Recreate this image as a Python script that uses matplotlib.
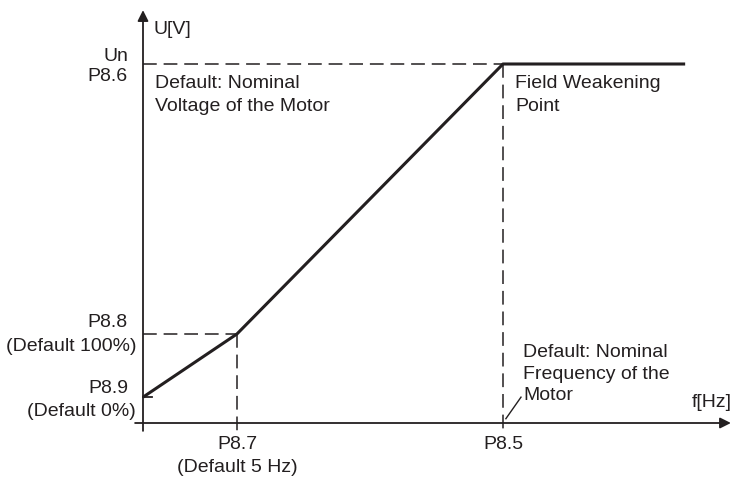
import matplotlib.pyplot as plt

# V/f curve, relative units (P8.5 frequency = 1, nominal voltage Un = 1)
f_pts = [0.0, 0.261, 1.0, 1.506]
u_pts = [0.072, 0.248, 1.0, 1.0]
f_p87 = f_pts[1]
f_p85 = f_pts[2]
u_p89 = u_pts[0]
u_p88 = u_pts[1]
u_n = u_pts[2]

ink = '#231f20'
plt.rcParams['font.family'] = ['Liberation Sans', 'DejaVu Sans']
fs = 14
ls = 1.4

fig = plt.figure(figsize=(7.34, 4.79), dpi=100)
ax = fig.add_axes([0, 0, 1, 1])
ax.set_xlim(-143/360, 591/360)
ax.set_ylim(-56/359, 423/359)
ax.axis('off')

# axes with arrows
ax.annotate('', xy=(1.633, 0), xytext=(-0.022, 0),
            arrowprops=dict(arrowstyle='-|>', color=ink, lw=1.3, mutation_scale=16, shrinkA=0, shrinkB=0))
ax.annotate('', xy=(0, 1.15), xytext=(0, -0.022),
            arrowprops=dict(arrowstyle='-|>', color=ink, lw=1.3, mutation_scale=16, shrinkA=0, shrinkB=0))

# dashed guides
dash = (0, (9, 4.5))
ax.plot([0, f_p85], [u_n, u_n], color=ink, lw=1.1, linestyle=dash)
ax.plot([f_p85, f_p85], [u_n, -0.02], color=ink, lw=1.1, linestyle=dash)
ax.plot([0, f_p87], [u_p88, u_p88], color=ink, lw=1.1, linestyle=dash)
ax.plot([f_p87, f_p87], [u_p88, -0.025], color=ink, lw=1.1, linestyle=dash)

# curve
ax.plot(f_pts, u_pts, color=ink, lw=2.2, solid_capstyle='butt')
ax.plot([0, 0.025], [u_p89, u_p89], color=ink, lw=1.3)

# leader line
ax.plot([1.008, 1.05], [0.012, 0.072], color=ink, lw=1.0)

# labels
ax.text(0.028, 1.095, 'U[V]', fontsize=fs, color=ink, va='center')
ax.text(1.636, 0.056, 'f[Hz]', fontsize=fs, color=ink, ha='right', va='center')
ax.text(-0.042, 1.022, 'Un', fontsize=fs, color=ink, ha='right', va='center')
ax.text(-0.042, 0.964, 'P8.6', fontsize=fs, color=ink, ha='right', va='center')
ax.text(0.033, 0.968, 'Default: Nominal\nVoltage of the Motor', fontsize=fs, color=ink,
        va='top', linespacing=ls)
ax.text(1.033, 0.968, 'Field Weakening\nPoint', fontsize=fs, color=ink, va='top', linespacing=ls)
ax.text(-0.042, 0.279, 'P8.8', fontsize=fs, color=ink, ha='right', va='center')
ax.text(-0.019, 0.212, '(Default 100%)', fontsize=fs, color=ink, ha='right', va='center')
ax.text(-0.042, 0.097, 'P8.9', fontsize=fs, color=ink, ha='right', va='center')
ax.text(-0.021, 0.031, '(Default 0%)', fontsize=fs, color=ink, ha='right', va='center')
ax.text(f_p87, -0.061, 'P8.7', fontsize=fs, color=ink, ha='center', va='center')
ax.text(f_p87, -0.125, '(Default 5 Hz)', fontsize=fs, color=ink, ha='center', va='center')
ax.text(f_p85, -0.061, 'P8.5', fontsize=fs, color=ink, ha='center', va='center')
ax.text(1.056, 0.22, 'Default: Nominal\nFrequency of the\nMotor', fontsize=fs, color=ink,
        va='top', linespacing=1.35)

fig.savefig('out.png', dpi=100)
